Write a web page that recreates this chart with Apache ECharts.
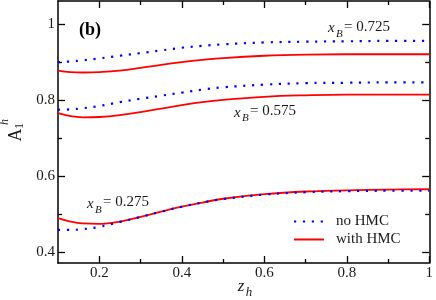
<!DOCTYPE html>
<html><head><meta charset="utf-8">
<script src="https://cdn.jsdelivr.net/npm/echarts@6/dist/echarts.min.js"></script>
<style>html,body{margin:0;padding:0;background:#fff}#c{width:436px;height:300px}</style>
</head><body><div id="c"></div>
<script>
const zh = [0.1, 0.13, 0.16, 0.2, 0.25, 0.3, 0.35, 0.4, 0.45, 0.5, 0.6, 0.7, 0.8, 0.9, 1.0];
const noHMC_725 = [0.899, 0.901, 0.904, 0.909, 0.916, 0.923, 0.930, 0.937, 0.942, 0.946, 0.951, 0.953, 0.954, 0.955, 0.955];
const withHMC_725 = [0.877, 0.873, 0.872, 0.873, 0.877, 0.884, 0.892, 0.899, 0.905, 0.910, 0.916, 0.919, 0.920, 0.920, 0.920];
const noHMC_575 = [0.774, 0.775, 0.778, 0.784, 0.794, 0.803, 0.811, 0.819, 0.827, 0.833, 0.840, 0.844, 0.845, 0.846, 0.846];
const withHMC_575 = [0.765, 0.757, 0.754, 0.755, 0.760, 0.768, 0.777, 0.786, 0.794, 0.800, 0.808, 0.812, 0.814, 0.814, 0.814];
const noHMC_275 = [0.458, 0.458, 0.460, 0.466, 0.479, 0.492, 0.506, 0.519, 0.530, 0.539, 0.551, 0.557, 0.560, 0.561, 0.561];
const withHMC_275 = [0.489, 0.480, 0.475, 0.474, 0.480, 0.492, 0.506, 0.519, 0.530, 0.540, 0.552, 0.559, 0.562, 0.564, 0.565];
const xMajor = [0.2, 0.4, 0.6, 0.8, 1.0];
const xMinor = [0.3, 0.5, 0.7, 0.9];
const yMajor = [0.4, 0.6, 0.8, 1.0];
const yMinor = [0.5, 0.7, 0.9];
const xLabels = ['0.2', '0.4', '0.6', '0.8', '1'];
const yLabels = ['0.4', '0.6', '0.8', '1'];

const FONT = 'Liberation Serif';
const pair = (ys) => zh.map((x, i) => [x, ys[i]]);

function mkAxis(kind, pos, ticks, len, labels, showLine) {
  return {
    type: 'value', position: pos,
    min: kind === 'x' ? 0.1 : 0.371, max: kind === 'x' ? 1.0 : 1.06,
    axisLine: { show: showLine, onZero: false, lineStyle: { color: '#000', width: 1.5 } },
    axisTick: { show: true, inside: true, length: len, customValues: ticks, lineStyle: { color: '#000', width: 1.3 } },
    splitLine: { show: false },
    axisLabel: labels ? {
      show: true, customValues: ticks, margin: 3, fontFamily: FONT, fontSize: 15, color: '#1a1a1a',
      formatter: (v) => labels[ticks.findIndex(t => Math.abs(t - v) < 1e-6)]
    } : { show: false }
  };
}

const dotStyle = { color: '#0000ff', width: 2.2, type: [2.2, 6.7], cap: 'butt' };
const redStyle = { color: '#ff0000', width: 1.8 };
function ser(name, ys, style) {
  return { type: 'line', name, data: pair(ys), smooth: 0.4, showSymbol: false, symbol: 'none',
    lineStyle: style, itemStyle: { color: style.color }, xAxisIndex: 0, yAxisIndex: 0, z: name === 'no HMC' ? 3 : 2 };
}

const chart = echarts.init(document.getElementById('c'));
chart.setOption({
  animation: false,
  grid: { left: 58, right: 5, top: 1, bottom: 37 },
  xAxis: [
    mkAxis('x', 'bottom', xMajor, 7, xLabels, true),
    mkAxis('x', 'bottom', xMinor, 4, null, false),
    mkAxis('x', 'top', xMajor, 7, null, true),
    mkAxis('x', 'top', xMinor, 4, null, false)
  ],
  yAxis: [
    mkAxis('y', 'left', yMajor, 7, yLabels, true),
    mkAxis('y', 'left', yMinor, 4, null, false),
    mkAxis('y', 'right', yMajor, 7, null, true),
    mkAxis('y', 'right', yMinor, 4, null, false)
  ],
  legend: {
    left: 293, top: 214, orient: 'vertical', padding: 0, itemGap: 3,
    itemWidth: 30, itemHeight: 14,
    itemStyle: { opacity: 0 },
    data: ['no HMC', 'with HMC'],
    textStyle: { fontFamily: FONT, fontSize: 15, color: '#1a1a1a', padding: [0, 0, 0, 7] }
  },
  series: [
    ser('no HMC', noHMC_725, dotStyle),
    ser('with HMC', withHMC_725, redStyle),
    ser('no HMC', noHMC_575, dotStyle),
    ser('with HMC', withHMC_575, redStyle),
    ser('no HMC', noHMC_275, dotStyle),
    ser('with HMC', withHMC_275, redStyle)
  ],
  graphic: [
    { type: 'text', x: 79, y: 30, style: { text: '(b)', font: 'bold 18px "Liberation Serif"', fill: '#000', verticalAlign: 'middle' } },
    // x_B = 0.725
    { type: 'text', x: 328, y: 28.5, style: { text: 'x', font: 'italic 15px "Liberation Serif"', fill: '#1a1a1a', verticalAlign: 'middle' } },
    { type: 'text', x: 336, y: 34, style: { text: 'B', font: 'italic 11px "Liberation Serif"', fill: '#1a1a1a', verticalAlign: 'middle' } },
    { type: 'text', x: 344, y: 27, style: { text: '= 0.725', font: '15px "Liberation Serif"', fill: '#1a1a1a', verticalAlign: 'middle' } },
    // x_B = 0.575
    { type: 'text', x: 234, y: 113, style: { text: 'x', font: 'italic 15px "Liberation Serif"', fill: '#1a1a1a', verticalAlign: 'middle' } },
    { type: 'text', x: 242, y: 118.5, style: { text: 'B', font: 'italic 11px "Liberation Serif"', fill: '#1a1a1a', verticalAlign: 'middle' } },
    { type: 'text', x: 250, y: 111.5, style: { text: '= 0.575', font: '15px "Liberation Serif"', fill: '#1a1a1a', verticalAlign: 'middle' } },
    // x_B = 0.275
    { type: 'text', x: 87, y: 204, style: { text: 'x', font: 'italic 15px "Liberation Serif"', fill: '#1a1a1a', verticalAlign: 'middle' } },
    { type: 'text', x: 95, y: 210, style: { text: 'B', font: 'italic 11px "Liberation Serif"', fill: '#1a1a1a', verticalAlign: 'middle' } },
    { type: 'text', x: 103, y: 202.5, style: { text: '= 0.275', font: '15px "Liberation Serif"', fill: '#1a1a1a', verticalAlign: 'middle' } },
    // axis titles
    { type: 'text', x: 241, y: 287, style: { text: 'z', font: 'italic 17px "Liberation Serif"', fill: '#1a1a1a', align: 'center', verticalAlign: 'middle' } },
    { type: 'text', x: 249, y: 293, style: { text: 'h', font: 'italic 13px "Liberation Serif"', fill: '#1a1a1a', align: 'center', verticalAlign: 'middle' } },
    { type: 'text', x: 16, y: 135, rotation: Math.PI / 2, style: { text: 'A', font: '18px "Liberation Serif"', fill: '#1a1a1a', align: 'center', verticalAlign: 'middle' } },
    { type: 'text', x: 20, y: 126, rotation: Math.PI / 2, style: { text: '1', font: '12px "Liberation Serif"', fill: '#1a1a1a', align: 'center', verticalAlign: 'middle' } },
    { type: 'text', x: 5, y: 122, rotation: Math.PI / 2, style: { text: 'h', font: 'italic 12px "Liberation Serif"', fill: '#1a1a1a', align: 'center', verticalAlign: 'middle' } }
  ]
});
</script></body></html>
